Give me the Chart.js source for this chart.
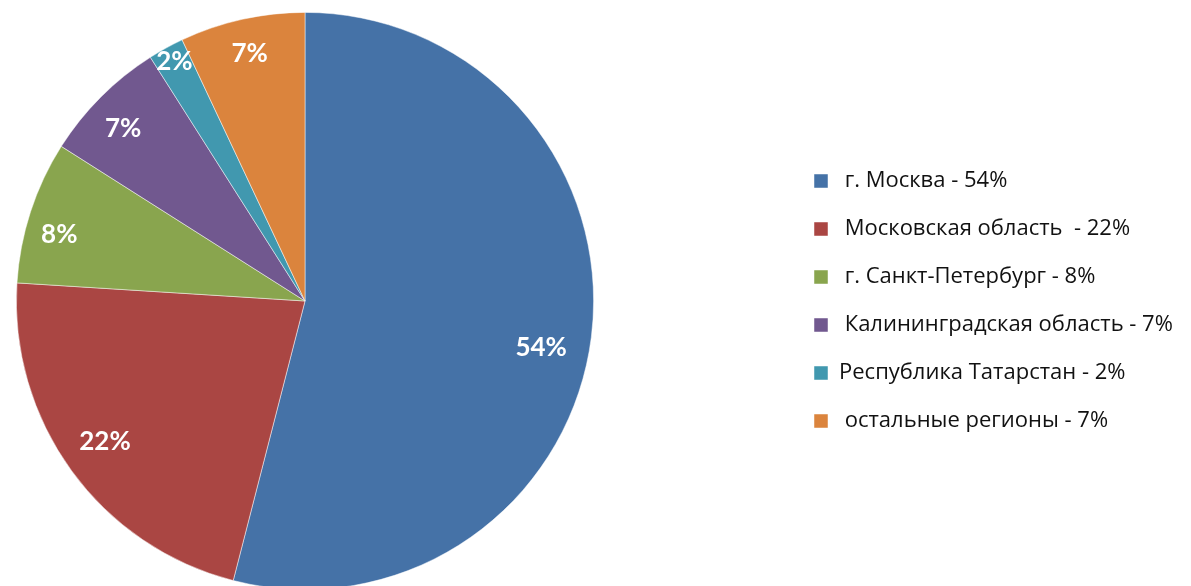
<!DOCTYPE html>
<html>
<head>
<meta charset="utf-8">
<script src="https://cdn.jsdelivr.net/npm/chart.js@4"></script>
<style>
    html, body { margin: 0; padding: 0; background: #fff; }
    #wrap { position: relative; width: 1191px; height: 586px; }
</style>
</head>
<body>
<div id="wrap"><canvas id="pieChart"></canvas></div>
<script>
// data
const regionLabels = [' г. Москва - 54%', ' Московская область  - 22%', ' г. Санкт-Петербург - 8%',
    ' Калининградская область - 7%', 'Республика Татарстан - 2%', ' остальные регионы - 7%'];
const regionShares = [54, 22, 8, 7, 2, 7];
const shareLabels = ['54%', '22%', '8%', '7%', '2%', '7%'];
const sliceColors = ['#4572A7', '#AA4643', '#89A54E', '#71588F', '#4198AF', '#DB843D'];

// where each percent label sits inside its slice (share of radius, angle nudge in degrees)
const labelRadius = [0.834, 0.848, 0.882, 0.869, 0.945, 0.879];
const labelNudge = [3.9, 0.8, -2.9, -1.5, 0.2, 0];

// pie box and legend x position
const pieLeft = 16, pieTop = 12, pieSize = 578;
const legendLeft = 788;

const placeLayout = {
    id: 'placeLayout',
    afterLayout(chart) {
        chart.chartArea = {
            left: pieLeft, top: pieTop,
            right: pieLeft + pieSize, bottom: pieTop + pieSize,
            width: pieSize, height: pieSize
        };
        const lg = chart.legend;
        const w = lg.width;
        lg.left = legendLeft;
        lg.right = legendLeft + w;
    }
};

const sliceLabels = {
    id: 'sliceLabels',
    afterDatasetsDraw(chart) {
        const ctx = chart.ctx;
        const meta = chart.getDatasetMeta(0);
        ctx.save();
        ctx.font = 'bold 26px Lato';
        ctx.fillStyle = '#ffffff';
        ctx.textAlign = 'center';
        ctx.textBaseline = 'middle';
        meta.data.forEach(function (arc, i) {
            const p = arc.getProps(['x', 'y', 'startAngle', 'endAngle', 'outerRadius'], true);
            const mid = (p.startAngle + p.endAngle) / 2 + labelNudge[i] * Math.PI / 180;
            const r = p.outerRadius * labelRadius[i];
            ctx.fillText(shareLabels[i], p.x + Math.cos(mid) * r, p.y + Math.sin(mid) * r);
        });
        ctx.restore();
    }
};

const ctx = document.getElementById('pieChart').getContext('2d');
new Chart(ctx, {
    type: 'pie',
    data: {
        labels: regionLabels,
        datasets: [{
            data: regionShares,
            backgroundColor: sliceColors,
            borderColor: 'rgba(255,255,255,0.6)',
            borderWidth: 0.8
        }]
    },
    options: {
        responsive: true,
        maintainAspectRatio: false,
        animation: false,
        layout: { padding: { top: 16 } },
        plugins: {
            legend: {
                position: 'right',
                labels: {
                    color: '#111',
                    font: { family: 'Open Sans', size: 22 },
                    boxWidth: 14,
                    boxHeight: 14,
                    padding: 26
                }
            },
            tooltip: { enabled: false }
        }
    },
    plugins: [placeLayout, sliceLabels]
});
</script>
</body>
</html>
